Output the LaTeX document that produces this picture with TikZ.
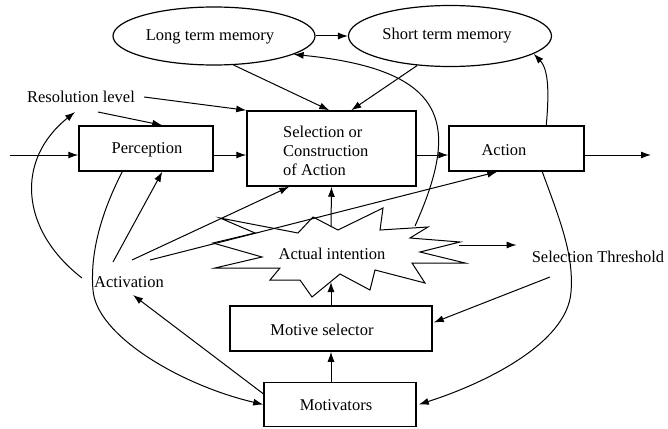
\documentclass[tikz,border=0pt]{standalone}
\usepackage{fontspec}
\setmainfont{Liberation Serif}
\usetikzlibrary{shapes.geometric,arrows.meta,calc}
\begin{document}
\begin{tikzpicture}[x=1pt,y=-1pt,
  arr/.style={-{Latex[length=10pt,width=7pt]}, line width=1pt},
  box/.style={draw, line width=1.5pt, inner sep=0pt},
  ell/.style={draw, ellipse, line width=1.2pt, inner sep=0pt},
  txt/.style={inner sep=1pt, font=\fontsize{16.5}{19}\selectfont},
  every node/.style={font=\fontsize{16.5}{19}\selectfont}]
\useasboundingbox (0,0) rectangle (668,428);
% boxes and ellipses
\node[ell, minimum width=202pt, minimum height=58pt] (ltm) at (214,36) {};
\node[ell, minimum width=203pt, minimum height=61pt] (stm) at (450,36) {};
\node[box, minimum width=134pt, minimum height=45pt] (perc) at (146,148.5) {};
\node[box, minimum width=169pt, minimum height=75pt] (sel) at (331.5,148.5) {};
\node[box, minimum width=135pt, minimum height=45pt] (act) at (516.5,148.5) {};
\node[box, minimum width=202pt, minimum height=45pt] (msel) at (331,328.5) {};
\node[box, minimum width=152pt, minimum height=44pt] (motv) at (340,404.5) {};
% texts
\node[txt] (tltm) at (210,37) {Long term memory};
\node[txt] (tstm) at (447,36) {Short term memory};
\node[txt] (tperc) at (147,150) {Perception};
\node[txt, anchor=west, align=left] (tsel) at (282,151) {Selection or\\Construction\\of Action};
\node[txt] (tact) at (504,150) {Action};
\node[txt] (tmsel) at (322,330) {Motive selector};
\node[txt] (tmotv) at (336,405) {Motivators};
\node[txt] (int) at (332,254) {Actual intention};
\node[txt] (thr) at (598,257) {Selection Threshold};
\node[txt] (actv) at (129,282) {Activation};
\node[txt] (res) at (81,97) {Resolution level};
% starburst
\draw[line width=1pt] (220,218) -- (298,233) -- (313,217) -- (338,230) -- (383,208)
  -- (380,230) -- (428,227) -- (410,238) -- (460,242) -- (420,252) -- (465,263)
  -- (412,263) -- (425,283) -- (375,270) -- (370,290) -- (340,274) -- (312,297)
  -- (300,280) -- (270,280) -- (280,268) -- (215,268) -- (262,257) -- (213,243)
  -- (255,233) -- cycle;
\coordinate (intb) at (331,282);
\coordinate (intt) at (331,227);
\coordinate (intr) at (459,245);
\coordinate (inttr) at (415,226);
\coordinate (in) at (10,155);
\coordinate (out) at (651,155);
% connectors
\draw[arr] (in) -- (perc.west|-in);
\draw[arr] (perc.east|-in) -- (sel.west|-in);
\draw[arr] (sel.east|-in) -- (act.west|-in);
\draw[arr] (act.east|-in) -- (out);
\draw[arr] (ltm.east) -- (stm.west);
\draw[arr] (ltm.-56) -- ($(sel.north west)+(83,0)$);
\draw[arr] (stm.-138) -- ($(sel.north west)+(105,0)$);
\draw[arr] ($(res.center)+(17,15)$) -- ($(perc.north west)+(84,0)$);
\draw[arr] ($(res.east)+(8,0)$) -- (sel.north west);
\draw[arr] ($(actv.center)+(-47,-4)$) .. controls (20,230) and (15,160) .. ($(res.center)+(-6,15)$);
\draw[arr] ($(actv.center)+(-16,-20)$) -- ($(perc.south west)+(84,0)$);
\draw[arr] ($(actv.center)+(3,-22)$) -- ($(sel.south west)+(43,0)$);
\draw[arr] ($(actv.center)+(21,-22)$) -- ($(act.south west)+(49,0)$);
\draw[arr] ($(perc.south west)+(44,0)$) .. controls (100,215) and (90,255) .. (93,290)
  .. controls (96,335) and (180,385) .. (motv.west);
\draw[arr] ($(motv.north west)+(0,12)$) -- ($(actv.center)+(4,13)$);
\draw[arr] (msel.south|-motv.north) -- (msel.south);
\draw[arr] (msel.north) -- (intb);
\draw[arr] (intt) -- (sel.south);
\draw[arr] (intr) -- ($(thr.west)+(-14,-12)$);
\draw[arr] ($(thr.center)+(-48,20)$) -- ($(msel.east)+(1,-6)$);
\draw[arr] ($(act.north west)+(98,0)$) .. controls (549,95) and (549,70) .. (stm.-12);
\draw[arr] ($(act.south west)+(94,0)$) .. controls (560,220) and (574,255) .. (571,292)
  .. controls (567,345) and (480,385) .. ($(motv.east)+(2,0)$);
\draw[arr] (inttr) .. controls (460,125) and (450,70) .. (ltm.-13);
\end{tikzpicture}
\end{document}
